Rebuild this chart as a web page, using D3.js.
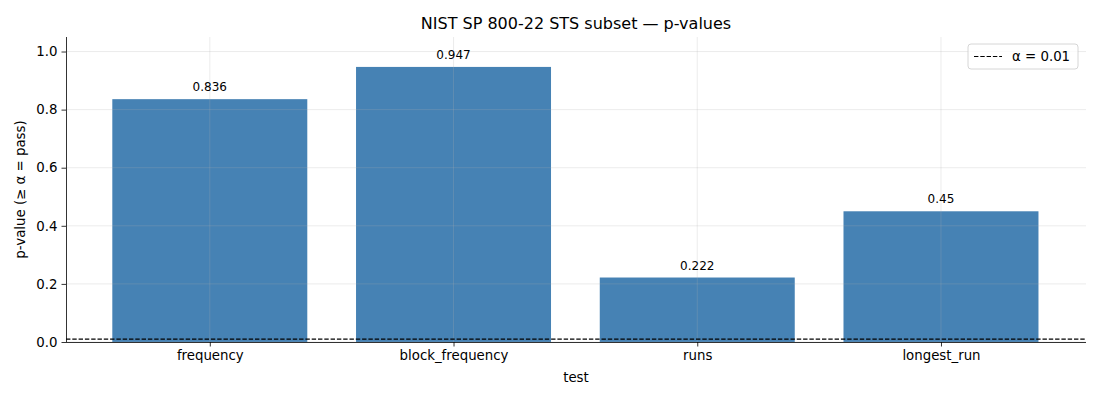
<!DOCTYPE html>
<html>
<head>
<meta charset="utf-8">
<script src="https://cdn.jsdelivr.net/npm/d3@7"></script>
<style>
  body { margin: 0; background: #fff; }
  svg { font-family: "DejaVu Sans", sans-serif; }
</style>
</head>
<body>
<div id="chart"></div>
<script>
// data
var tests = ['frequency', 'block_frequency', 'runs', 'longest_run'];
var pValues = [0.836, 0.947, 0.222, 0.45];
var yTicks = [0.0, 0.2, 0.4, 0.6, 0.8, 1.0];
var alpha = 0.01;

var width = 1100, height = 400;
var margin = { top: 37, right: 14, bottom: 58, left: 66 };
var innerW = width - margin.left - margin.right;
var innerH = height - margin.top - margin.bottom;
var fs = '13.33px';

var svg = d3.select('#chart')
	.append('svg')
	.attr('width', width)
	.attr('height', height);

var g = svg.append('g')
	.attr('transform', 'translate(' + margin.left + ',' + margin.top + ')');

// matplotlib style: index positions, bar width 0.8
var x = d3.scaleLinear()
	.domain([-0.59, tests.length - 0.405])
	.range([0, innerW]);

var y = d3.scaleLinear()
	.domain([0, 1.05])
	.range([innerH, 0]);

var barW = 0.8;

// bars
g.selectAll('rect.bar')
	.data(pValues)
	.enter()
	.append('rect')
	.attr('class', 'bar')
	.attr('x', function (d, i) { return x(i - barW / 2); })
	.attr('width', function (d, i) { return x(i + barW / 2) - x(i - barW / 2); })
	.attr('y', function (d) { return y(d); })
	.attr('height', function (d) { return y(0) - y(d); })
	.attr('fill', '#4682b4');

// grid (drawn over bars, faint)
g.selectAll('line.hgrid')
	.data(yTicks)
	.enter()
	.append('line')
	.attr('x1', 0).attr('x2', innerW)
	.attr('y1', function (d) { return y(d); })
	.attr('y2', function (d) { return y(d); })
	.attr('stroke', '#b0b0b0')
	.attr('stroke-opacity', 0.3)
	.attr('stroke-width', 0.8);

g.selectAll('line.vgrid')
	.data(tests)
	.enter()
	.append('line')
	.attr('x1', function (d, i) { return x(i); })
	.attr('x2', function (d, i) { return x(i); })
	.attr('y1', 0).attr('y2', innerH)
	.attr('stroke', '#b0b0b0')
	.attr('stroke-opacity', 0.3)
	.attr('stroke-width', 0.8);

// value labels
g.selectAll('text.val')
	.data(pValues)
	.enter()
	.append('text')
	.attr('x', function (d, i) { return x(i); })
	.attr('y', function (d) { return y(d) - 8; })
	.attr('text-anchor', 'middle')
	.attr('font-size', '12px')
	.attr('fill', '#000')
	.text(function (d) { return d; });

// threshold line
g.append('line')
	.attr('x1', 0).attr('x2', innerW)
	.attr('y1', y(alpha)).attr('y2', y(alpha))
	.attr('stroke', '#000')
	.attr('stroke-width', 1.2)
	.attr('stroke-dasharray', '4.4,1.9');

// axes
var xAxis = g.append('g')
	.attr('transform', 'translate(0,' + innerH + ')')
	.call(d3.axisBottom(x)
		.tickValues(d3.range(tests.length))
		.tickFormat(function (i) { return tests[i]; })
		.tickSize(4.5)
		.tickPadding(4));

var yAxis = g.append('g')
	.call(d3.axisLeft(y)
		.tickValues(yTicks)
		.tickFormat(d3.format('.1f'))
		.tickSize(4.5)
		.tickPadding(4));

[xAxis, yAxis].forEach(function (a) {
	a.selectAll('text').attr('font-size', fs).attr('fill', '#000')
		.attr('font-family', '"DejaVu Sans", sans-serif');
	a.selectAll('line').attr('stroke', '#000').attr('stroke-width', 0.8);
	a.select('.domain').attr('stroke', '#000').attr('stroke-width', 0.8);
});
xAxis.select('.domain').attr('d', 'M0,0.5H' + innerW);
yAxis.select('.domain').attr('d', 'M0.5,' + innerH + 'V0');

// title and labels
svg.append('text')
	.attr('x', margin.left + innerW / 2)
	.attr('y', 29)
	.attr('text-anchor', 'middle')
	.attr('font-size', '16px')
	.text('NIST SP 800-22 STS subset — p-values');

svg.append('text')
	.attr('x', margin.left + innerW / 2)
	.attr('y', 382)
	.attr('text-anchor', 'middle')
	.attr('font-size', fs)
	.text('test');

svg.append('text')
	.attr('transform', 'translate(25,' + (margin.top + innerH / 2) + ') rotate(-90)')
	.attr('text-anchor', 'middle')
	.attr('font-size', fs)
	.text('p-value (≥ α = pass)');

// legend
var lg = svg.append('g').attr('transform', 'translate(968,44)');
lg.append('rect')
	.attr('width', 110).attr('height', 25)
	.attr('rx', 3)
	.attr('fill', '#fff').attr('fill-opacity', 0.8)
	.attr('stroke', '#ccc').attr('stroke-width', 0.8);
lg.append('line')
	.attr('x1', 6).attr('x2', 34)
	.attr('y1', 12.5).attr('y2', 12.5)
	.attr('stroke', '#000').attr('stroke-width', 1.2)
	.attr('stroke-dasharray', '4.4,1.9');
lg.append('text')
	.attr('x', 44).attr('y', 17)
	.attr('font-size', fs)
	.text('α = 0.01');
</script>
</body>
</html>
